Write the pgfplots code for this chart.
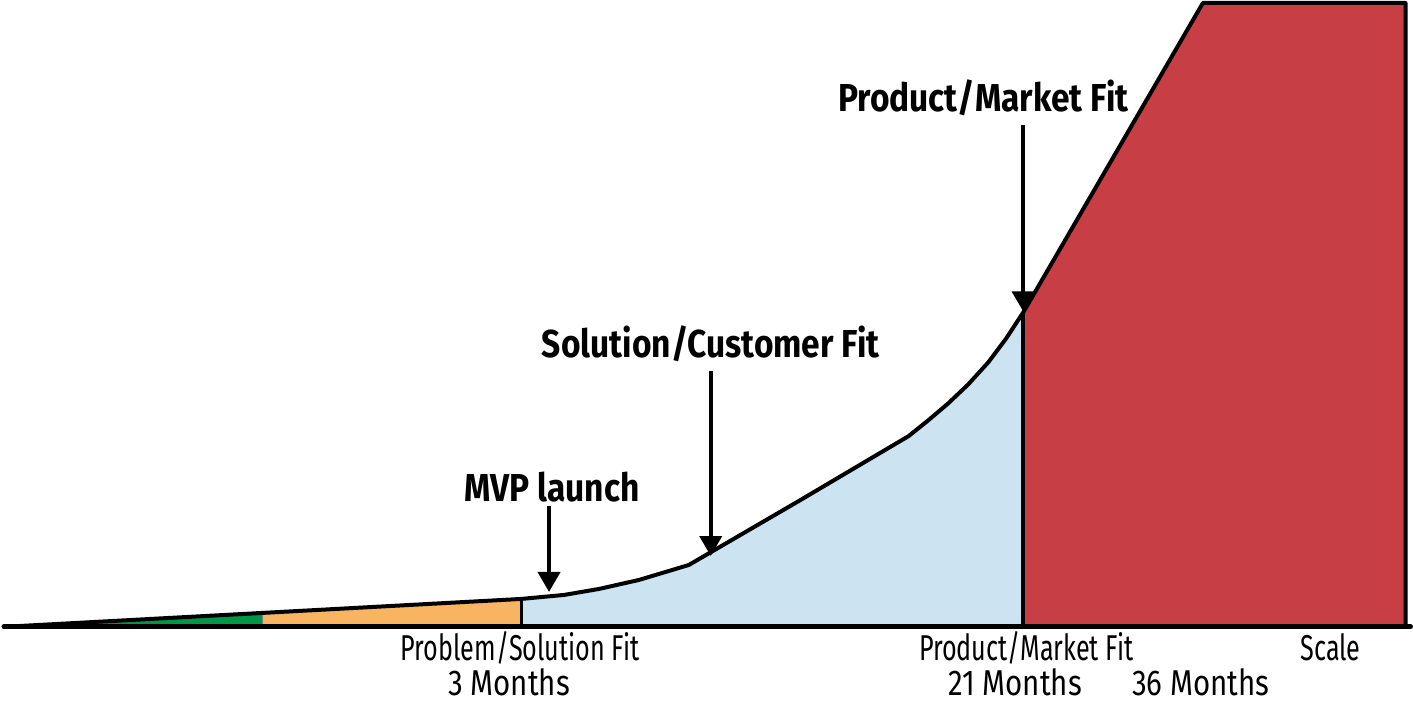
\documentclass[border=0pt]{standalone}
\usepackage{pgfplots}
\pgfplotsset{compat=1.18}
\usetikzlibrary{arrows.meta}
\usepackage{fontspec}
\setmainfont{Fira Sans}
\newfontfamily\bcond[FakeStretch=0.86]{Fira Sans}
\newfontfamily\rcond[FakeStretch=0.70]{Fira Sans}
\newfontfamily\mcond[FakeStretch=0.82]{Fira Sans}
\definecolor{cgreen}{RGB}{0,150,70}
\definecolor{corange}{RGB}{248,180,96}
\definecolor{cblue}{RGB}{204,227,241}
\definecolor{cred}{RGB}{199,62,68}
\begin{document}
\begin{tikzpicture}
\begin{axis}[
  x=0.5pt, y=0.5pt, scale only axis,
  xmin=0, xmax=1413, ymin=0, ymax=709,
  hide axis, clip=false,
]
\path (axis cs:0,0) rectangle (axis cs:1413,709);
% fills
\addplot[draw=none, fill=cgreen] coordinates {(3,81) (263,95) (263,81)} -- cycle;
\addplot[draw=none, fill=corange] coordinates {(263,81) (263,95) (522,109) (522,81)} -- cycle;
\addplot[draw=none, fill=cblue] coordinates {(522,81) (522,109) (565,113) (600,119) (640,128) (690,143) (800,207) (910,272) (930,288) (950,305) (970,324) (990,346) (1008,370) (1025,396) (1025,81)} -- cycle;
\addplot[draw=none, fill=cred] coordinates {(1025,81) (1025,396) (1205,706) (1408,706) (1408,81)} -- cycle;
% separators
\addplot[gray, line width=0.5pt] coordinates {(263,81) (263,95)};
\addplot[black, line width=1.5pt] coordinates {(522,81) (522,109)};
\addplot[black, line width=2pt] coordinates {(1025,81) (1025,396)};
% curve
\addplot[black, line width=2pt, line join=round] coordinates {(3,81) (263,95) (522,109) (565,113) (600,119) (640,128) (690,143) (800,207) (910,272) (930,288) (950,305) (970,324) (990,346) (1008,370) (1025,396) (1205,706) (1408,706) (1408,81)};
% baseline
\addplot[black, line width=2.5pt, line cap=round] coordinates {(4,81) (1413,81)};
% arrows
\draw[line width=2pt, -{Triangle[width=11pt,length=10pt]}] (axis cs:1025,584) -- (axis cs:1025,397);
\draw[line width=2pt, -{Triangle[width=11pt,length=10pt]}] (axis cs:712,337) -- (axis cs:712,152);
\draw[line width=2pt, -{Triangle[width=11pt,length=10pt]}] (axis cs:550,202) -- (axis cs:550,116);
% bold labels
\node[anchor=base, font=\bcond\bfseries\fontsize{19.5}{22}\selectfont] at (axis cs:985,597) {Product/Market Fit};
\node[anchor=base, font=\bcond\bfseries\fontsize{19.5}{22}\selectfont] at (axis cs:712,351) {Solution/Customer Fit};
\node[anchor=base, font=\bcond\bfseries\fontsize{19.5}{22}\selectfont] at (axis cs:553,207) {MVP launch};
% bottom labels
\node[anchor=base, font=\rcond\fontsize{18}{20}\selectfont] at (axis cs:521,47) {Problem/Solution Fit};
\node[anchor=base, font=\mcond\fontsize{18}{20}\selectfont] at (axis cs:510,12) {3 Months};
\node[anchor=base, font=\rcond\fontsize{18}{20}\selectfont] at (axis cs:1028,47) {Product/Market Fit};
\node[anchor=base, font=\mcond\fontsize{18}{20}\selectfont] at (axis cs:1017,12) {21 Months};
\node[anchor=base, font=\mcond\fontsize{18}{20}\selectfont] at (axis cs:1203,12) {36 Months};
\node[anchor=base, font=\rcond\fontsize{18}{20}\selectfont] at (axis cs:1333,47) {Scale};
\end{axis}
\end{tikzpicture}
\end{document}
